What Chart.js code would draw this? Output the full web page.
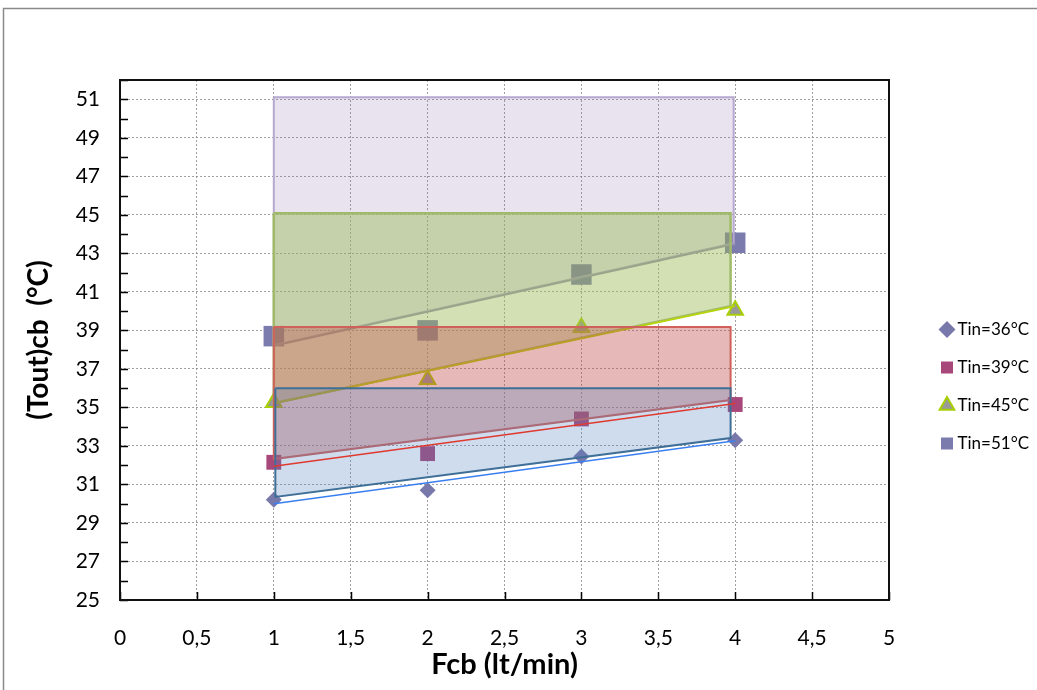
<!DOCTYPE html>
<html>
<head>
<meta charset="utf-8">
<script src="https://cdn.jsdelivr.net/npm/chart.js@4/dist/chart.umd.min.js"></script>
<style>
  html, body { margin: 0; padding: 0; background: #fff; }
  #wrap { width: 1037px; height: 690px; position: relative; }
</style>
</head>
<body>
<div id="wrap"><canvas id="myChart"></canvas></div>
<script>
// Fcb (lt/min)
let fcb = [1, 2, 3, 4];
// (Tout)cb for every inlet temperature
let tout36 = [30.2, 30.7, 32.45, 33.3];
let tout39 = [32.15, 32.6, 34.4, 35.15];
let tout45 = [35.25, 36.45, 39.15, 40.05];
let tout51 = [38.7, 39.0, 41.9, 43.55];
let seriesLabels = ['Tin=36°C', 'Tin=39°C', 'Tin=45°C', 'Tin=51°C'];

// trend lines, start and end values
let trendX = [1, 4];
let trend36 = [30.0, 33.27];
let trend39 = [31.95, 35.2];
let trend45 = [35.22, 40.26];
let trend51 = [38.2, 43.5];

// shaded bands: x left, x right, top, bottom left, bottom right
let band36 = [1.01, 3.97, 36.0, 30.35, 33.41];
let band39 = [1.0, 3.97, 39.17, 32.32, 35.38];
let band45 = [1.0, 3.97, 45.08, 35.22, 40.26];
let band51 = [1.0, 3.99, 51.1, 38.23, 43.53];

let xTickLabels = ['0', '0,5', '1', '1,5', '2', '2,5', '3', '3,5', '4', '4,5', '5'];
let yTickLabels = [25, 27, 29, 31, 33, 35, 37, 39, 41, 43, 45, 47, 49, 51];

const FONT = 'Lato, "Open Sans", sans-serif';
const gridColor = 'rgba(120,120,120,0.7)';

function points(xs, ys) {
    return xs.map((x, i) => ({x: x, y: ys[i]}));
}

function bandPoints(b) {
    return [
        {x: b[0], y: b[2]}, {x: b[1], y: b[2]},
        {x: b[1], y: b[4]}, {x: b[0], y: b[3]},
        {x: b[0], y: b[2]}
    ];
}

function band(b, fillColor, lineColor, width, order) {
    return {
        data: bandPoints(b),
        backgroundColor: fillColor,
        borderColor: lineColor,
        borderWidth: width,
        fill: 'shape',
        pointRadius: 0,
        tension: 0,
        order: order
    };
}

function trend(ys, color, width, order) {
    return {
        data: points(trendX, ys),
        borderColor: color,
        borderWidth: width,
        fill: false,
        pointRadius: 0,
        order: order
    };
}

function markers(label, ys, style, radius, bg, border, bw) {
    return {
        label: label,
        data: points(fcb, ys),
        showLine: false,
        pointStyle: style,
        pointRadius: radius,
        backgroundColor: bg,
        borderColor: border,
        borderWidth: bw,
        order: 8,
        isLegend: true
    };
}

// white page, outer grey frame, plot box and inner tick marks
const chartFrame = {
    id: 'chartFrame',
    beforeDraw(chart) {
        let ctx = chart.ctx;
        ctx.save();
        ctx.fillStyle = '#fff';
        ctx.fillRect(0, 0, chart.width, chart.height);
        ctx.strokeStyle = '#8a8a8a';
        ctx.lineWidth = 1.5;
        ctx.strokeRect(3.5, 8.5, 1200, 1000);
        ctx.restore();
    },
    afterDatasetsDraw(chart) {
        let ctx = chart.ctx;
        let a = chart.chartArea;
        let xs = chart.scales.x, ys = chart.scales.y;
        ctx.save();
        ctx.strokeStyle = '#000';
        ctx.lineWidth = 1.5;
        ctx.beginPath();
        ys.ticks.forEach(t => {
            let py = Math.round(ys.getPixelForValue(t.value)) + 0.5;
            ctx.moveTo(a.left, py);
            ctx.lineTo(a.left + 8, py);
        });
        xs.ticks.forEach(t => {
            let px = Math.round(xs.getPixelForValue(t.value)) + 0.5;
            ctx.moveTo(px, a.bottom);
            ctx.lineTo(px, a.bottom - 8);
        });
        ctx.stroke();
        ctx.lineWidth = 2;
        ctx.strokeStyle = '#111';
        ctx.strokeRect(a.left, a.top, a.right - a.left, a.bottom - a.top);
        ctx.restore();
    }
};

// legend sits in a fixed strip right of the plot
const legendPlace = {
    id: 'legendPlace',
    beforeLayout(chart) {
        let lg = chart.legend;
        if (!lg || lg._placed) return;
        lg._placed = true;
        let fit = lg.fit;
        lg.fit = function () {
            fit.call(this);
            this.width = 148;
        };
        let draw = lg.draw;
        lg.draw = function () {
            let l = this.left, t = this.top;
            this.left = l + 35;
            this.top = t + 3;
            draw.call(this);
            this.left = l;
            this.top = t;
        };
    }
};

let ctx = document.getElementById('myChart').getContext('2d');

let chart = new Chart(ctx, {
    type: 'line',
    data: {
        datasets: [
            trend(trend36, '#3a7ff0', 1.5, 0),
            trend(trend39, '#e0392f', 1.5, 1),
            band(band36, 'rgba(79,129,189,0.28)', '#3f6f97', 2, 2),
            band(band39, 'rgba(192,80,77,0.40)', '#d0605a', 2, 3),
            trend(trend45, '#b7d40a', 2, 4),
            band(band45, 'rgba(155,187,89,0.45)', '#a0ba6a', 2.5, 5),
            trend(trend51, '#9a93b5', 2, 6),
            band(band51, 'rgba(128,100,162,0.18)', '#b6a8cf', 2, 7),
            markers(seriesLabels[0], tout36, 'rectRot', 8, '#7878aa', '#7878aa', 0),
            markers(seriesLabels[1], tout39, 'rect', 10.5, '#a8487a', '#a8487a', 0),
            markers(seriesLabels[2], tout45, 'triangle', 9, '#999999', '#a8d000', 2),
            markers(seriesLabels[3], tout51, 'rect', 14.5, '#7b7bad', '#7b7bad', 0)
        ]
    },
    options: {
        responsive: true,
        maintainAspectRatio: false,
        animation: false,
        events: [],
        layout: {
            padding: {top: 80, right: 0, bottom: 0, left: 0}
        },
        scales: {
            x: {
                type: 'linear',
                min: 0,
                max: 5,
                afterFit(scale) { scale.height = 90; },
                ticks: {
                    stepSize: 0.5,
                    padding: 26,
                    color: '#000',
                    font: {family: FONT, size: 21},
                    callback: (v, i) => xTickLabels[i]
                },
                grid: {color: gridColor, drawTicks: false, lineWidth: 1},
                border: {display: false, dash: [2, 2]},
                title: {
                    display: true,
                    text: 'Fcb (lt/min)',
                    color: '#000',
                    font: {family: FONT, size: 29, weight: 'bold', lineHeight: 1},
                    padding: {top: 0, bottom: 11}
                }
            },
            y: {
                min: 25,
                max: 52,
                afterFit(scale) { scale.width = 120; },
                ticks: {
                    stepSize: 1,
                    autoSkip: false,
                    padding: 20,
                    color: '#000',
                    font: {family: FONT, size: 21},
                    callback: v => yTickLabels.includes(v) ? String(v) : ''
                },
                grid: {
                    drawTicks: false,
                    lineWidth: 1,
                    color: c => (c.tick && yTickLabels.includes(c.tick.value)) ? gridColor : 'rgba(0,0,0,0)'
                },
                border: {display: false, dash: [2, 2]},
                title: {
                    display: true,
                    text: '(Tout)cb  (°C)',
                    color: '#000',
                    font: {family: FONT, size: 28, weight: 'bold', lineHeight: 1},
                    padding: {top: 25, bottom: 0}
                }
            }
        },
        plugins: {
            tooltip: {enabled: false},
            legend: {
                position: 'right',
                labels: {
                    usePointStyle: true,
                    boxWidth: 4,
                    boxHeight: 12,
                    padding: 21,
                    color: '#000',
                    font: {family: FONT, size: 17},
                    filter: (item, data) => data.datasets[item.datasetIndex].isLegend
                }
            }
        }
    },
    plugins: [chartFrame, legendPlace]
});
</script>
</body>
</html>
